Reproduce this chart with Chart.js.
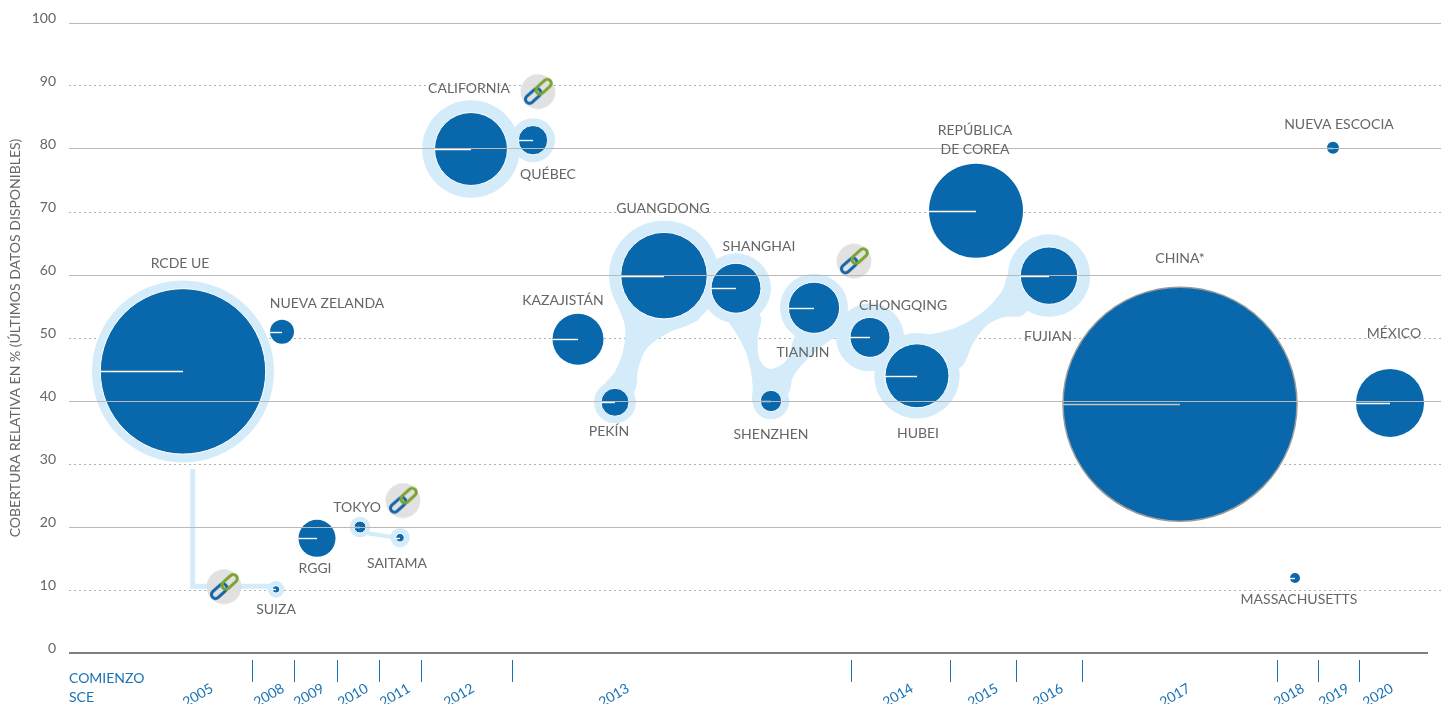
<!DOCTYPE html>
<html>
<head>
<meta charset="utf-8">
<title>Cobertura SCE</title>
<script src="https://cdn.jsdelivr.net/npm/chart.js@4"></script>
<style>
  html, body { margin: 0; background: #fff; }
  #chart { display: block; }
</style>
</head>
<body>
<canvas id="chart" width="1448" height="704"></canvas>
<script>
// sistemas, ordenados como en el eje de comienzo
const nombres = ['RCDE UE', 'NUEVA ZELANDA', 'SUIZA', 'RGGI', 'TOKYO', 'SAITAMA', 'CALIFORNIA', 'QUÉBEC',
  'KAZAJISTÁN', 'GUANGDONG', 'SHANGHAI', 'TIANJIN', 'CHONGQING', 'HUBEI', 'PEKÍN', 'SHENZHEN',
  'FUJIAN', 'REPÚBLICA|DE COREA', 'CHINA*', 'MÉXICO', 'NUEVA ESCOCIA', 'MASSACHUSETTS'];
const posicion = [183, 282, 276, 317, 360, 400, 471, 533, 578, 664, 736, 814, 870, 917, 615, 771, 1049, 976, 1180, 1390, 1333, 1295];
const cobertura = [44.7, 51, 10.1, 18.2, 20, 18.3, 80, 81.4, 49.8, 59.9, 57.9, 54.8, 50.1, 44, 39.8, 40, 59.9, 70.2, 39.5, 39.7, 80.2, 11.9];
const volumen = [3420, 72, 7, 171, 18, 9, 666, 108, 325, 937, 312, 328, 200, 512, 98, 57, 412, 1104, 6844, 578, 18, 12.5];

// radio del halo claro de los sistemas enlazados o agrupados
const halos = { 'RCDE UE': 91, 'SUIZA': 8.3, 'TOKYO': 10.3, 'SAITAMA': 9.7, 'CALIFORNIA': 48.8, 'QUÉBEC': 22,
  'GUANGDONG': 55, 'SHANGHAI': 35, 'TIANJIN': 34, 'CHONGQING': 34, 'HUBEI': 42.7, 'PEKÍN': 21, 'SHENZHEN': 18.3, 'FUJIAN': 41.3 };

// desplazamiento de cada etiqueta respecto a su burbuja
const etiquetaDx = [-3, 45, 0, -2, -3, -3, -2, 15, -15, -1, 23, -11, 33, 1, -6, 0, -1, -1, 0, 4, 6, 4];
const etiquetaDy = [-108, -28, 20, 30, -20, 26, -61, 34, -39, -67, -42, 45, -32, 58, 29, 33, 61, -80, -146, -69, -23, 21];

// enlaces entre mercados
const enlaceX = [224, 854, 403, 538];
const enlaceY = [10.5, 62.2, 24.2, 89.1];

// conectores finos
const uniones = [
  { x: [192.7, 192.7, 276], y: [29.2, 10.6, 10.6], w: 5 },
  { x: [360, 368, 400], y: [20, 19, 18.2], w: 4 }
];
// contornos de los grupos de China [x, %]
const grupoPekin = [[618, 55], [625, 51.8], [623.3, 48.1], [615, 44.7], [603.3, 42], [615, 40.2], [634.3, 41.5], [638.3, 45.2], [648.3, 48.6], [675, 51.4], [700, 53.4], [663, 59.9]];
const grupoSur = [[728.3, 52.6], [741.7, 49.2], [749.3, 46], [752.7, 42.3], [753.3, 39.6], [770, 39.1], [788.3, 41.2], [793.3, 43.9], [806.7, 46.5], [823.3, 48.9], [838.3, 50.5], [843.3, 51.8], [816.7, 51.8], [796.7, 50.7], [786.7, 46.5], [770, 45.1], [760, 46.5], [757.7, 49.7], [760, 53.7], [735.7, 56]];
const grupoNorte = [[905, 50.5], [930, 50.6], [956.7, 51.7], [983.3, 54.2], [1001.7, 57.4], [1010.7, 60.3], [1050, 59.7], [1023.3, 53.7], [1003.3, 53.3], [986.7, 52], [973.3, 49.2], [959.3, 45.2], [916.7, 44.4]];
const eje = [[69, 0], [1428, 0]];

const anios = ['2005', '2008', '2009', '2010', '2011', '2012', '2013', '2014', '2015', '2016', '2017', '2018', '2019', '2020'];
const aniosPos = [212, 283, 323, 367, 409, 473, 628, 912, 997, 1062, 1189, 1303, 1348, 1392];
const limites = [252, 294, 337, 379, 421, 512, 851, 950, 1016, 1082, 1277, 1318, 1359];

const gris = '#666666';
const azul = '#0868ab';
const azulTexto = '#1a72b4';
const celeste = '#d4ebfa';
const fuente = 'Lato, "Noto Sans", sans-serif';

// el area del grafico es fija: las burbujas no deben reservar margen
Chart.BubbleController.prototype.getMaxOverflow = () => 0;

function pares(lista) { return lista.map(p => ({ x: p[0], y: p[1] })); }

function iconoEnlace() {
  const c = document.createElement('canvas');
  c.width = 36; c.height = 36;
  const g = c.getContext('2d');
  g.fillStyle = 'rgba(222,222,222,0.9)';
  g.beginPath(); g.arc(18, 18, 17.4, 0, Math.PI * 2); g.fill();
  g.translate(18, 18);
  g.rotate(-Math.PI / 4.3);
  g.lineWidth = 3;
  g.strokeStyle = '#1465a8';
  g.beginPath(); g.roundRect(-15.5, -4, 18, 8, 4); g.stroke();
  g.strokeStyle = '#7ba32f';
  g.beginPath(); g.roundRect(-1.5, -4, 18, 8, 4); g.stroke();
  return c;
}

const burbujas = nombres.map((n, i) => ({ x: posicion[i], y: cobertura[i], r: Math.sqrt(volumen[i] * 2), n: n }));
const halo = burbujas.filter(b => halos[b.n]).map(b => ({ x: b.x, y: b.y, r: halos[b.n] }));

const dibujo = {
  id: 'dibujo',
  afterDatasetsDraw(chart) {
    // radio blanco de cada burbuja
    const ctx = chart.ctx;
    const puntos = chart.getDatasetMeta(chart.data.datasets.findIndex(d => d.label === 'burbujas')).data;
    ctx.save();
    puntos.forEach((p, i) => {
      const y = Math.round(p.y) + 0.5;
      ctx.strokeStyle = nombres[i] === 'CHINA*' ? '#c4c4c4' : '#fff';
      ctx.lineWidth = 1.4;
      ctx.beginPath();
      ctx.moveTo(p.x - p.options.radius, y);
      ctx.lineTo(p.x, y);
      ctx.stroke();
    });
    ctx.restore();
  },
  afterDraw(chart) {
    const ctx = chart.ctx;
    const x = chart.scales.x;
    const puntos = chart.getDatasetMeta(chart.data.datasets.findIndex(d => d.label === 'burbujas')).data;
    ctx.save();
    // etiquetas de los sistemas
    ctx.font = '14px ' + fuente;
    ctx.fillStyle = gris;
    ctx.textAlign = 'center';
    ctx.textBaseline = 'middle';
    puntos.forEach((p, i) => {
      nombres[i].split('|').forEach((t, l) => {
        ctx.fillText(t, p.x + etiquetaDx[i], p.y + etiquetaDy[i] + l * 19);
      });
    });
    // marcas entre años de comienzo
    ctx.strokeStyle = azulTexto;
    ctx.lineWidth = 1;
    limites.forEach(v => {
      const px = Math.round(x.getPixelForValue(v)) + 0.5;
      ctx.beginPath(); ctx.moveTo(px, 660); ctx.lineTo(px, 682); ctx.stroke();
    });
    ctx.fillStyle = azulTexto;
    ctx.textAlign = 'left';
    ctx.fillText('COMIENZO', 69, 678);
    ctx.fillText('SCE', 69, 697);
    ctx.restore();
  }
};

new Chart(document.getElementById('chart'), {
  type: 'bubble',
  data: {
    datasets: [
      { type: 'line', label: 'eje', data: pares(eje), borderColor: '#555', borderWidth: 1.5, pointRadius: 0, clip: false, order: 1 },
      { label: 'enlaces', data: enlaceX.map((v, i) => ({ x: v, y: enlaceY[i], r: 18 })), pointStyle: iconoEnlace(), order: 2 },
      { label: 'burbujas', data: burbujas,
        backgroundColor: azul,
        borderColor: c => burbujas[c.dataIndex].n === 'CHINA*' ? '#9a9a9a' : '#fff',
        borderWidth: c => burbujas[c.dataIndex].n === 'CHINA*' ? 1.5 : (halos[burbujas[c.dataIndex].n] ? 1 : 0),
        order: 3 },
      { label: 'halos', data: halo, backgroundColor: celeste, borderWidth: 0, order: 4 },
      { type: 'line', label: 'pekin', data: pares(grupoPekin), fill: 'shape', tension: 0.35, backgroundColor: celeste, borderWidth: 0, pointRadius: 0, order: 5 },
      { type: 'line', label: 'sur', data: pares(grupoSur), fill: 'shape', tension: 0.35, backgroundColor: celeste, borderWidth: 0, pointRadius: 0, order: 5 },
      { type: 'line', label: 'norte', data: pares(grupoNorte), fill: 'shape', tension: 0.35, backgroundColor: celeste, borderWidth: 0, pointRadius: 0, order: 5 }
    ].concat(uniones.map(u => ({
      type: 'line', label: 'union', data: u.x.map((v, i) => ({ x: v, y: u.y[i] })), borderColor: celeste, borderWidth: u.w, pointRadius: 0, order: 5
    })))
  },
  options: {
    responsive: false,
    animation: false,
    events: [],
    layout: { padding: { top: 23, right: 7, left: 0, bottom: 0 } },
    plugins: { legend: { display: false }, tooltip: { enabled: false } },
    scales: {
      x: {
        type: 'linear', min: 69, max: 1441,
        grid: { display: false }, border: { display: false },
        afterBuildTicks: s => { s.ticks = aniosPos.map(v => ({ value: v })); },
        afterFit: s => { s.height = 51; },
        ticks: {
          autoSkip: false, minRotation: 30, maxRotation: 30, padding: 19,
          color: azulTexto, font: { family: fuente, size: 14 },
          callback: (v, i) => anios[i]
        }
      },
      y: {
        min: 0, max: 100,
        afterFit: s => { s.width = 69; },
        border: { display: false },
        grid: {
          z: 1, drawTicks: false, lineWidth: 1,
          color: c => (c.tick.value % 20 === 0 && c.tick.value !== 0) ? '#b9b9b9' : 'rgba(0,0,0,0)'
        },
        ticks: {
          stepSize: 10, padding: 13, color: gris, font: { family: fuente, size: 14, lineHeight: 0.65 },
          callback: v => [String(v), '']
        },
        title: {
          display: true, text: 'COBERTURA RELATIVA EN % (ÚLTIMOS DATOS DISPONIBLES)',
          color: gris, font: { family: fuente, size: 14 }, padding: { top: 7, bottom: 0 }
        }
      },
      y2: {
        position: 'left', min: 0, max: 100,
        afterFit: s => { s.width = 0; },
        border: { display: false, dash: [2, 3] },
        ticks: { display: false, stepSize: 10 },
        grid: {
          z: -1, drawTicks: false, lineWidth: 1,
          color: c => c.tick.value % 20 === 10 ? '#b0b0b0' : 'rgba(0,0,0,0)'
        }
      }
    }
  },
  plugins: [dibujo]
});
</script>
</body>
</html>
